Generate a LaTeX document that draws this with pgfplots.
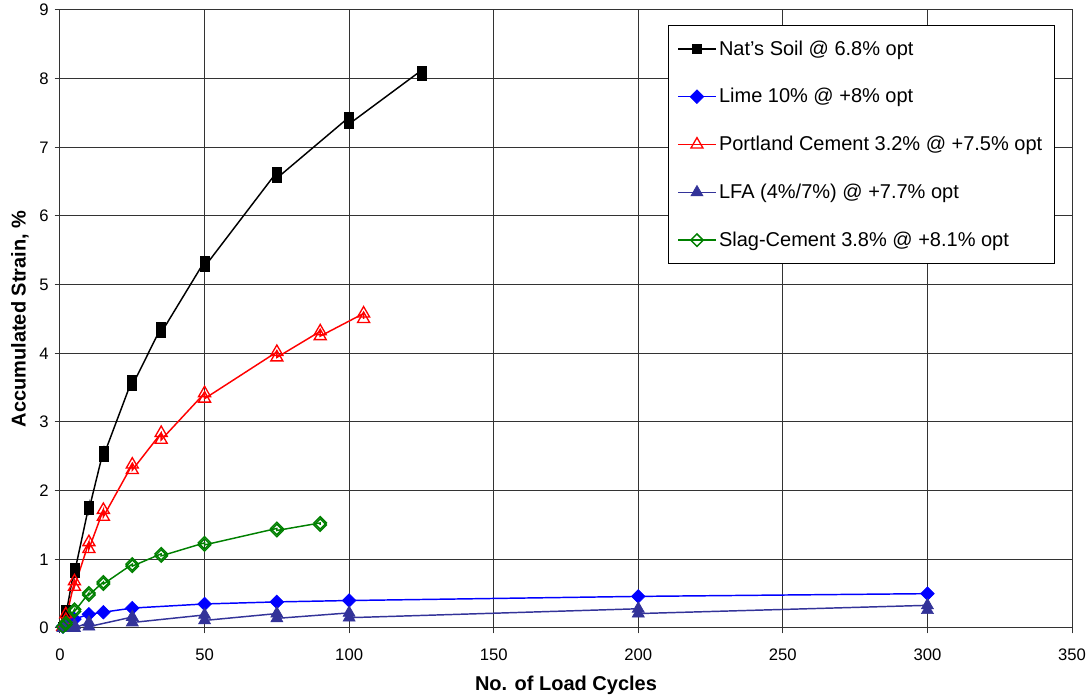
\documentclass[border=0pt]{standalone}
\usepackage{fontspec}
\setmainfont{Liberation Sans}
\usepackage{pgfplots}
\pgfplotsset{compat=1.18}
\definecolor{lfa}{RGB}{51,51,153}
\definecolor{slag}{RGB}{0,128,0}
\begin{document}
\begin{tikzpicture}
\path[use as bounding box] (-45pt,-52.5pt) rectangle (772.5pt,471pt);
\begin{axis}[
  scale only axis,
  width=759pt, height=463.5pt,
  xmin=0, xmax=350, ymin=0, ymax=9,
  xtick={0,50,...,350}, ytick={0,1,...,9},
  grid=major,
  major grid style={line width=0.75pt, black!80},
  axis line style={line width=0.75pt, black!80},
  tick style={line width=0.75pt, black!80},
  tick align=outside, major tick length=4pt,
  xtick pos=bottom, ytick pos=left,
  /pgf/number format/assume math mode=true,
  tick label style={font=\fontsize{12.5pt}{14pt}\selectfont},
  xticklabel style={yshift=-8pt},
  yticklabel style={xshift=-1pt},
  xlabel={\bfseries No. of Load Cycles},
  ylabel={\bfseries Accumulated Strain, \%},
  label style={font=\fontsize{15pt}{18pt}\selectfont},
  xlabel style={at={(axis description cs:0.5,-0.093)}, anchor=center},
  ylabel style={at={(axis description cs:-0.0395,0.5)}, anchor=center},
  legend cell align=left,
  legend style={at={(0.983,0.976)}, anchor=north east,
    font=\fontsize{15pt}{18pt}\selectfont, draw=black, line width=0.75pt,
    row sep=19.5pt, inner xsep=7pt, inner ysep=9.5pt},
  legend image code/.code={
    \draw[#1, mark repeat=2, mark phase=2] plot coordinates {(0pt,0pt) (14pt,0pt) (28pt,0pt)};
  },
  every axis plot/.append style={line width=1.1pt},
]
% Nat's Soil
\addplot[black, mark=square*, mark size=3.4pt, mark options={solid, fill=black, line width=0.5pt}] coordinates {
(1,0.02)(2,0.26)(2,0.18)(5,0.88)(5,0.80)(10,1.78)(10,1.72)(15,2.58)(15,2.50)
(25,3.62)(25,3.53)(35,4.38)(35,4.30)(50,5.34)(50,5.26)(75,6.64)(75,6.55)
(100,7.44)(100,7.34)(125,8.12)(125,8.04)};
\addlegendentry{Nat's Soil @ 6.8\% opt}
% Lime
\addplot[blue, mark=square*, mark size=3.6pt, mark options={solid, rotate=45, fill=blue, line width=0.5pt}] coordinates {
(1,0.02)(2,0.05)(5,0.13)(10,0.20)(15,0.23)(25,0.29)(50,0.35)(75,0.38)(100,0.40)(200,0.46)(300,0.50)};
\addlegendentry{Lime 10\% @ +8\% opt}
% Portland Cement
\addplot[red, mark=triangle, mark size=5.2pt, mark options={solid, fill=white, line width=1pt}] coordinates {
(1,0.02)(2,0.20)(2,0.12)(5,0.68)(5,0.60)(10,1.25)(10,1.15)(15,1.72)(15,1.62)
(25,2.38)(25,2.30)(35,2.84)(35,2.74)(50,3.42)(50,3.34)(75,4.02)(75,3.94)
(90,4.32)(90,4.25)(105,4.58)(105,4.50)};
\addlegendentry{Portland Cement 3.2\% @ +7.5\% opt}
% LFA
\addplot[lfa, mark=triangle*, mark size=5.2pt, mark options={solid, fill=lfa, line width=0.5pt}] coordinates {
(1,0.00)(2,0.02)(5,0.04)(5,0.00)(10,0.08)(10,0.02)(25,0.16)(25,0.08)(50,0.19)(50,0.11)
(75,0.21)(75,0.14)(100,0.22)(100,0.15)(200,0.28)(200,0.21)(300,0.33)(300,0.26)};
\addlegendentry{LFA (4\%/7\%) @ +7.7\% opt}
% Slag-Cement
\addplot[slag, mark=square, mark size=3.3pt, mark options={solid, rotate=45, fill=white, line width=1.1pt}] coordinates {
(1,0.02)(2,0.08)(2,0.05)(5,0.27)(5,0.24)(10,0.51)(10,0.48)(15,0.67)(15,0.64)
(25,0.93)(25,0.90)(35,1.08)(35,1.05)(50,1.24)(50,1.21)(75,1.45)(75,1.42)(90,1.53)(90,1.50)};
\addlegendentry{Slag-Cement 3.8\% @ +8.1\% opt}
\end{axis}
\end{tikzpicture}
\end{document}
